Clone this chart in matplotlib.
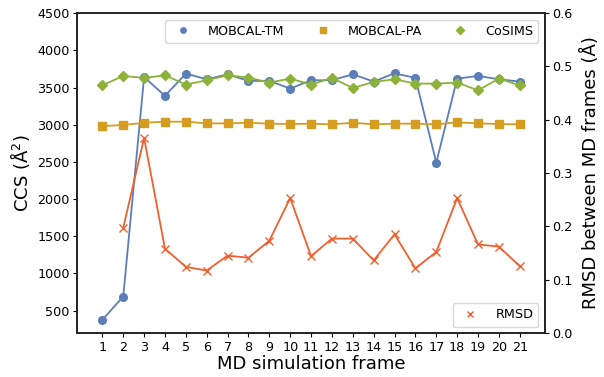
import numpy as np
import matplotlib
matplotlib.use('Agg')
import matplotlib.pyplot as plt

frames = np.arange(1, 22)
mobcal_tm = [375, 689, 3642, 3387, 3688, 3611, 3678, 3589, 3589, 3486, 3598,
             3598, 3678, 3580, 3692, 3629, 2489, 3620, 3656, 3611, 3580]
mobcal_pa = [2982, 2996, 3027, 3041, 3041, 3018, 3018, 3027, 3014, 3009, 3014,
             3005, 3027, 3005, 3014, 3014, 3005, 3032, 3018, 3009, 3005]
cosims = [3530, 3656, 3629, 3665, 3540, 3598, 3665, 3634, 3567, 3620, 3540,
          3629, 3494, 3575, 3611, 3553, 3553, 3567, 3463, 3620, 3530]
rmsd = [np.nan, 0.197, 0.366, 0.158, 0.124, 0.117, 0.145, 0.141, 0.173, 0.253, 0.144,
        0.177, 0.177, 0.136, 0.185, 0.121, 0.152, 0.253, 0.166, 0.162, 0.125]

fs = 9.2
fig, ax = plt.subplots(figsize=(6.04, 3.77), dpi=100)
fig.subplots_adjust(left=0.128, right=0.902, top=0.965, bottom=0.117)

ax.plot(frames, mobcal_tm, marker='o', color='#5b7db8', label='MOBCAL-TM', ms=5.5, lw=1.3)
ax.plot(frames, mobcal_pa, marker='s', color='#d49d22', label='MOBCAL-PA', ms=5.5, lw=1.3)
ax.plot(frames, cosims, marker='D', color='#8cb23a', label='CoSIMS', ms=5.5, lw=1.3)
ax.set_ylim(200, 4500)
ax.set_xlim(-0.2, 22.2)
ax.set_xticks(frames)
ax.tick_params(length=3, pad=2.5, labelsize=fs)
ax.set_xlabel('MD simulation frame', fontsize=13, labelpad=1)
ax.set_ylabel('CCS (Å$^2$)', fontsize=13, labelpad=4)
leg1 = ax.legend(loc='upper right', ncol=3, columnspacing=2.0, handletextpad=0.95,
                 markerscale=0.7, borderaxespad=0.5, fontsize=fs)
for h in leg1.legend_handles:
    h.set_linestyle('none')

ax2 = ax.twinx()
ax2.plot(frames, rmsd, marker='x', color='#f0602e', label='RMSD', ms=5.5, lw=1.3)
ax2.set_ylim(0, 0.6)
ax2.tick_params(length=3, pad=2.5, labelsize=fs)
ax2.set_ylabel('RMSD between MD frames (Å)', fontsize=13, labelpad=6)
leg2 = ax2.legend(loc='lower right', markerscale=0.8, handletextpad=0.95,
                  borderaxespad=0.5, fontsize=fs)
for h in leg2.legend_handles:
    h.set_linestyle('none')

for a in (ax, ax2):
    for s in a.spines.values():
        s.set_linewidth(1.2)
        s.set_color('#222222')

fig.savefig('out.png')
